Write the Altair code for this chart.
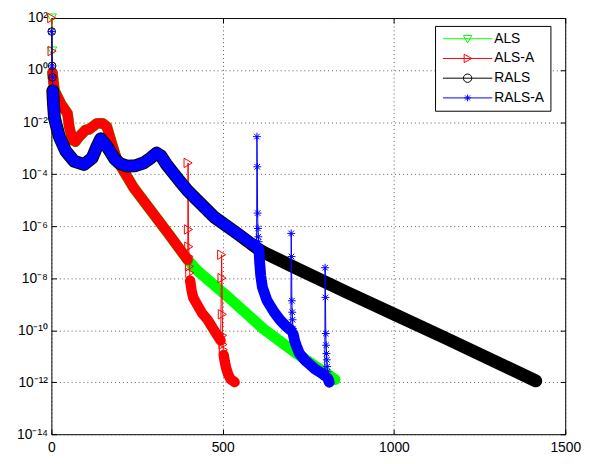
import json
import altair as alt
import pandas as pd

FONT = "Liberation Sans"
SERIES = ["ALS", "ALS-A", "RALS", "RALS-A"]
COLORS = ["#00ff00", "#ff0000", "#000000", "#0000ff"]

X_TICKS = [0, 500, 1000, 1500]
Y_TICKS = [1e-14, 1e-12, 1e-10, 1e-8, 1e-6, 1e-4, 1e-2, 1e0, 1e2]
Y_LABELS = ["10⁻¹⁴", "10⁻¹²", "10⁻¹⁰", "10⁻⁸", "10⁻⁶", "10⁻⁴", "10⁻²", "10⁰", "10²"]

# ---- values: iteration and log10(residual) ----
# ALS (green)
als_head_it = [1, 2]
als_head_lg = [2.0, 0.73]
als_band_it = [3, 9, 28, 47, 52, 61, 70, 81, 100, 110, 133, 150, 162, 176, 191, 201,
               240, 283, 341, 398, 427, 523, 619, 715, 828]
als_band_lg = [-0.1, -0.79, -1.3, -1.67, -2.18, -2.68, -2.75, -2.56, -2.3, -2.28, -2.05,
               -2.05, -2.18, -2.81, -3.44, -3.66, -4.52, -5.27, -6.28, -7.3, -7.72,
               -8.81, -9.95, -10.89, -11.9]

# ALS-A (red)
alsa_head_it = [1, 2]
alsa_head_lg = [2.0, 0.73]
alsa_band1_it = [3, 9, 28, 47, 52, 61, 70, 81, 100, 110, 133, 150, 162, 176, 191, 201,
                 240, 283, 341, 398]
alsa_band1_lg = [-0.1, -0.79, -1.3, -1.67, -2.18, -2.68, -2.75, -2.56, -2.3, -2.28,
                 -2.05, -2.05, -2.18, -2.81, -3.44, -3.66, -4.52, -5.27, -6.28, -7.3]
alsa_spike1_it = [399, 400, 401, 402, 403, 404]
alsa_spike1_lg = [-3.57, -6.13, -6.79, -7.17, -7.55, -7.8]
alsa_band2_it = [405, 409, 414, 427, 440, 456, 475, 494]
alsa_band2_lg = [-8.1, -8.45, -8.75, -9.05, -9.35, -9.6, -10.0, -10.4]
alsa_spike2_it = [497, 498, 499, 500, 501, 502]
alsa_spike2_lg = [-7.1, -8.0, -9.39, -10.2, -10.55, -10.75]
alsa_band3_it = [503, 506, 510, 516, 523, 535]
alsa_band3_lg = [-10.95, -11.2, -11.45, -11.7, -11.88, -12.0]

# RALS (black)
rals_head_it = [1, 2, 3]
rals_head_lg = [1.48, 0.16, -0.28]
rals_band_it = [4, 6, 9, 23, 42, 66, 95, 119, 133, 144, 162, 184, 200, 221, 245, 269,
                290, 307, 320, 336, 374, 398, 475, 542, 600, 619, 715, 859, 1003, 1147,
                1414]
rals_band_lg = [-0.8, -1.3, -1.85, -2.56, -3.12, -3.5, -3.63, -3.38, -2.94, -2.64, -2.93,
                -3.4, -3.6, -3.69, -3.68, -3.57, -3.38, -3.19, -3.3, -3.63, -4.26, -4.64,
                -5.65, -6.28, -6.85, -7.0, -7.62, -8.52, -9.4, -10.28, -11.95]

# RALS-A (blue)
ralsa_head_it = [1, 2, 3]
ralsa_head_lg = [1.48, 0.16, -0.28]
ralsa_band1_it = [4, 6, 9, 23, 42, 66, 95, 119, 133, 144, 162, 184, 200, 221, 245, 269,
                  290, 307, 320, 336, 374, 398, 475, 542, 599]
ralsa_band1_lg = [-0.8, -1.3, -1.85, -2.56, -3.12, -3.5, -3.63, -3.38, -2.94, -2.64,
                  -2.93, -3.4, -3.6, -3.69, -3.68, -3.57, -3.38, -3.19, -3.3, -3.63,
                  -4.26, -4.64, -5.65, -6.28, -6.8]
ralsa_spike1_it = [600, 601, 602, 603, 604, 605]
ralsa_spike1_lg = [-2.56, -3.72, -5.5, -6.09, -6.41, -6.6]
ralsa_band2_it = [606, 608, 611, 616, 629, 650, 667, 685, 699]
ralsa_band2_lg = [-6.9, -7.4, -7.9, -8.35, -8.85, -9.3, -9.6, -9.85, -10.0]
ralsa_spike2_it = [700, 701, 702, 703, 704, 705]
ralsa_spike2_lg = [-6.28, -7.17, -8.87, -9.31, -9.6, -9.94]
ralsa_band3_it = [706, 710, 715, 724, 740, 753, 770, 792, 798]
ralsa_band3_lg = [-10.15, -10.4, -10.6, -10.9, -11.15, -11.3, -11.5, -11.68, -11.75]
ralsa_spike3_it = [799, 800, 801, 802, 803, 804, 805, 806]
ralsa_spike3_lg = [-7.6, -8.74, -10.13, -10.58, -10.9, -11.14, -11.4, -11.6]
ralsa_band4_it = [807, 811]
ralsa_band4_lg = [-11.85, -12.0]

# ---- styles ----
STAR = "M-1,0L1,0M0,-1L0,1M-0.71,-0.71L0.71,0.71M-0.71,0.71L0.71,-0.71"
LINE = "M-1,0L9,0"
LEGEND_PATHS = [
    LINE + "M3.15,-0.65L4.85,-0.65L4,0.85Z",
    LINE + "M3.3,-0.85L3.3,0.85L4.85,0Z",
    LINE + "M3.15,0A0.85,0.85 0 1,0 4.85,0A0.85,0.85 0 1,0 3.15,0",
    LINE + "M3.3,0L4.7,0M4,-0.7L4,0.7M3.5,-0.5L4.5,0.5M3.5,0.5L4.5,-0.5",
]


def build(name, parts):
    rows = []
    for seg, (kind, its, lgs) in enumerate(parts):
        for i, l in zip(its, lgs):
            rows.append({"series": name, "it": i, "val": 10.0 ** l, "kind": kind, "seg": seg})
    df = pd.DataFrame(rows)
    df["order"] = range(len(df))
    return df


als_df = build("ALS", [("head", als_head_it, als_head_lg), ("band", als_band_it, als_band_lg)])
alsa_df = build("ALS-A", [("head", alsa_head_it, alsa_head_lg),
                          ("band", alsa_band1_it, alsa_band1_lg),
                          ("spike", alsa_spike1_it, alsa_spike1_lg),
                          ("band", alsa_band2_it, alsa_band2_lg),
                          ("spike", alsa_spike2_it, alsa_spike2_lg),
                          ("band", alsa_band3_it, alsa_band3_lg)])
rals_df = build("RALS", [("head", rals_head_it, rals_head_lg), ("band", rals_band_it, rals_band_lg)])
ralsa_df = build("RALS-A", [("head", ralsa_head_it, ralsa_head_lg),
                            ("band", ralsa_band1_it, ralsa_band1_lg),
                            ("spike", ralsa_spike1_it, ralsa_spike1_lg),
                            ("band", ralsa_band2_it, ralsa_band2_lg),
                            ("spike", ralsa_spike2_it, ralsa_spike2_lg),
                            ("band", ralsa_band3_it, ralsa_band3_lg),
                            ("spike", ralsa_spike3_it, ralsa_spike3_lg),
                            ("band", ralsa_band4_it, ralsa_band4_lg)])

XS = alt.Scale(domain=[0, 1500], nice=False, zero=False)
YS = alt.Scale(type="log", domain=[1e-14, 1e2], nice=False)

label_expr = json.dumps(Y_LABELS, ensure_ascii=False) + "[round((log(datum.value)/LN10+14)/2)]"

axis_common = dict(ticks=True, tickSize=5, tickColor="black", tickWidth=1, offset=-5,
                   domain=False, title=None, labelFont=FONT, labelFontSize=14,
                   labelColor="black", gridColor="#222222", gridDash=[1, 3],
                   gridOpacity=0.75, gridWidth=1)

x_main = alt.Axis(orient="bottom", values=X_TICKS, grid=True, labelPadding=7,
                  labelFlush=False, format="d", **axis_common)
y_main = alt.Axis(orient="left", values=Y_TICKS, grid=True, labelPadding=4,
                  labelExpr=label_expr, labelOverlap=False, **axis_common)
x_top = alt.Axis(orient="top", values=X_TICKS, grid=False, labels=False, **axis_common)
y_right = alt.Axis(orient="right", values=Y_TICKS, grid=False, labels=False, **axis_common)


def enc(chart, xa=None, ya=None):
    return chart.encode(
        x=alt.X("it:Q", scale=XS, axis=xa),
        y=alt.Y("val:Q", scale=YS, axis=ya),
    )


def series_layers(df, color, width, shape, size, first=False):
    band = enc(alt.Chart(df).transform_filter(alt.datum.kind == "band").mark_line(
        color=color, strokeWidth=width, strokeCap="round", strokeJoin="round"),
        x_main if first else None, y_main if first else None).encode(
        detail="seg:N", order="order:Q")
    thin = enc(alt.Chart(df).mark_line(color=color, strokeWidth=1)).encode(order="order:Q")
    pts = enc(alt.Chart(df).transform_filter(alt.datum.kind != "band").mark_point(
        shape=shape, size=size, color=color, filled=False, strokeWidth=1, opacity=1))
    return [band, thin, pts]


layers = []
layers += series_layers(als_df, COLORS[0], 11, "triangle-down", 90, first=True)
layers += series_layers(alsa_df, COLORS[1], 10.5, "triangle-right", 90)
layers += series_layers(rals_df, COLORS[2], 13, "circle", 60)
layers += series_layers(ralsa_df, COLORS[3], 11, STAR, 64)

legend = alt.Legend(title=None, orient="none", legendX=389, legendY=8, symbolSize=100,
                    symbolStrokeWidth=1, symbolOpacity=1, labelFont=FONT, labelFontSize=14,
                    labelColor="black", labelOffset=40, padding=6, strokeColor="black",
                    fillColor="white", rowPadding=6)

leg_df = pd.DataFrame({"series": SERIES, "it": [1, 1, 1, 1], "val": [1.0, 1.0, 1.0, 1.0]})
leg_layer = enc(alt.Chart(leg_df).mark_point(filled=False, opacity=0), x_top, y_right).encode(
    color=alt.Color("series:N", scale=alt.Scale(domain=SERIES, range=COLORS), legend=legend),
    shape=alt.Shape("series:N", scale=alt.Scale(domain=SERIES, range=LEGEND_PATHS), legend=legend),
)
layers.append(leg_layer)

chart = alt.layer(*layers).resolve_axis(x="independent", y="independent").properties(
    width=521, height=422,
    autosize=alt.AutoSizeParams(type="none"),
    padding={"left": 44, "top": 7, "right": 17, "bottom": 25},
    background="white",
).configure_view(stroke="black", strokeWidth=1)

chart.save("out.html", embed_options={"renderer": "svg", "actions": False})
